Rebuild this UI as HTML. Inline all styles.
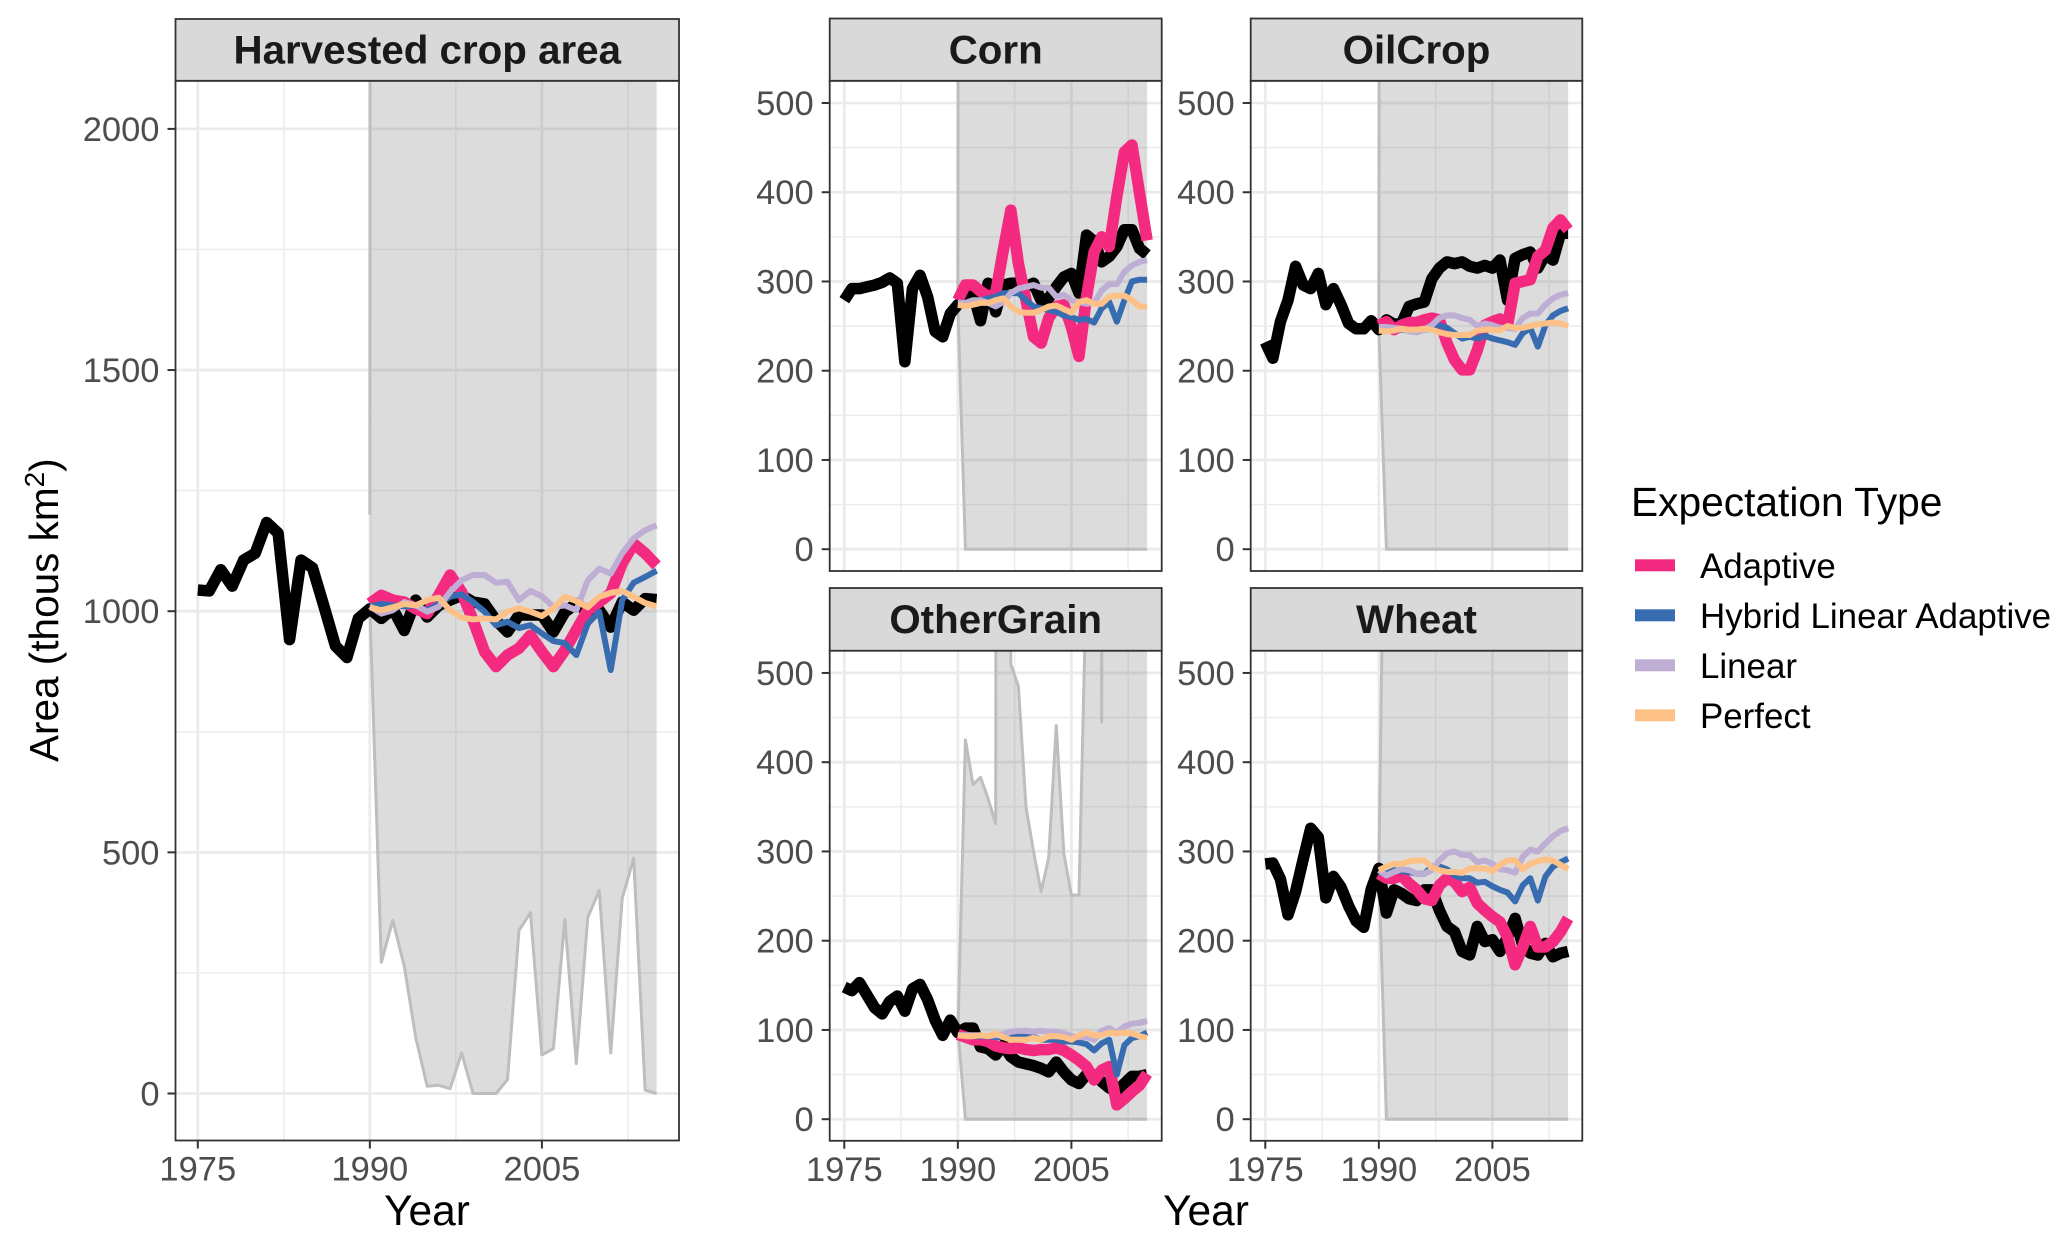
<!DOCTYPE html>
<html lang="en">
<head>
<meta charset="utf-8">
<title>Harvested crop area by expectation type</title>
<style>
html,body{margin:0;padding:0;background:#fff;}
svg{display:block;font-family:"Liberation Sans",Arial,sans-serif;}
</style>
</head>
<body>
<svg id="chart" xmlns="http://www.w3.org/2000/svg" width="2067" height="1244" viewBox="0 0 2067 1244"></svg>
<script>
// ---------- shared axes ----------
const histYears = [1975,1976,1977,1978,1979,1980,1981,1982,1983,1984,1985,1986,1987,1988,1989,1990,1991,1992,1993,1994,1995,1996,1997,1998,1999,2000,2001,2002,2003,2004,2005,2006,2007,2008,2009,2010,2011,2012,2013,2014,2015];
const projYears = [1990,1991,1992,1993,1994,1995,1996,1997,1998,1999,2000,2001,2002,2003,2004,2005,2006,2007,2008,2009,2010,2011,2012,2013,2014,2015];
const xMajorTicks = [1975,1990,2005];
const xMinorTicks = [1982.5,1997.5,2012.5];
const yTicksArea = [0,500,1000,1500,2000];
const yMinorArea = [250,750,1250,1750];
const yTicksCrop = [0,100,200,300,400,500];
const yMinorCrop = [50,150,250,350,450];
const seriesNames = ["Adaptive","Hybrid Linear Adaptive","Linear","Perfect"];

// ---------- Harvested crop area ----------
const areaObserved = [1044,1042,1086,1052,1106,1120,1184,1162,941,1106,1090,1010,928,904,985,1005,985,1005,960,1023,988,1012,1023,1033,1019,1015,981,957,992,992,992,957,998,1016,999,1002,967,1019,1002,1026,1024];
const areaAdaptive = [1016,1033,1023,1019,1005,995,1033,1075,1040,981,916,885,909,923,950,916,885,919,961,1002,1019,1037,1099,1140,1120,1095];
const areaHybrid = [1010,1015,1012,1010,1012,1002,1015,1030,1035,1019,999,971,978,965,971,954,938,934,909,974,999,878,1023,1059,1071,1084];
const areaLinear = [1010,995,1002,1019,1012,999,1009,1040,1064,1075,1075,1059,1061,1023,1042,1031,1009,1012,1002,1064,1088,1078,1120,1151,1168,1178];
const areaPerfect = [1008,1002,1008,1015,1012,1023,1028,1002,987,983,985,983,999,1006,999,990,1006,1030,1021,1008,1030,1038,1042,1030,1017,1010];
const areaLow = [1005,272,359,264,116,15,17,10,84,0,0,0,29,338,375,80,93,361,62,365,421,84,404,488,7,0];
const areaHigh = [1200,60000,60000,60000,60000,60000,60000,60000,60000,60000,60000,60000,60000,60000,60000,60000,60000,60000,60000,60000,60000,60000,60000,60000,60000,60000];

// ---------- Corn ----------
const cornObserved = [279,292,292,294,296,299,304,298,210,292,307,283,244,238,264,274,279,287,256,298,266,296,298,298,294,298,279,281,294,305,309,287,352,345,322,328,339,358,358,337,330];
const cornAdaptive = [279,296,296,289,283,287,335,380,320,279,238,231,259,272,274,249,216,283,333,350,339,395,445,453,399,346];
const cornHybrid = [276,276,277,279,281,283,287,287,287,279,272,270,268,266,262,260,257,258,254,270,277,255,279,300,302,302];
const cornLinear = [276,276,279,279,276,272,277,287,292,294,296,293,293,283,285,279,277,275,276,290,297,297,311,318,322,324];
const cornPerfect = [274,272,274,276,276,279,281,272,266,265,265,268,272,273,269,265,277,279,275,275,283,284,284,279,272,272];
const cornLow = [272,0,0,0,0,0,0,0,0,0,0,0,0,0,0,0,0,0,0,0,0,0,0,0,0,0];
const cornHigh = [272,9000,9000,9000,9000,9000,9000,9000,9000,9000,9000,9000,9000,9000,9000,9000,9000,9000,9000,9000,9000,9000,9000,9000,9000,9000];

// ---------- OilCrop ----------
const oilObserved = [232,214,255,279,317,296,292,309,274,292,274,253,247,247,256,246,257,252,253,272,275,277,303,315,322,320,322,317,315,318,315,324,279,326,330,333,315,330,324,354,354];
const oilAdaptive = [251,255,246,251,254,254,257,259,257,231,212,201,201,223,251,255,258,251,298,300,302,328,335,360,369,358];
const oilHybrid = [248,248,246,246,245,244,246,247,251,248,242,236,238,236,239,236,234,232,229,242,248,227,251,262,267,270];
const oilLinear = [249,249,248,247,244,243,246,251,259,262,262,259,257,250,253,251,248,248,247,259,264,264,274,281,285,287];
const oilPerfect = [245,244,245,247,246,246,247,246,243,241,240,240,240,245,246,246,245,250,248,248,250,252,253,254,253,250];
const oilLow = [246,0,0,0,0,0,0,0,0,0,0,0,0,0,0,0,0,0,0,0,0,0,0,0,0,0];
const oilHigh = [250,9000,9000,9000,9000,9000,9000,9000,9000,9000,9000,9000,9000,9000,9000,9000,9000,9000,9000,9000,9000,9000,9000,9000,9000,9000];

// ---------- OtherGrain ----------
const grainObserved = [148,144,153,139,125,118,132,138,121,146,151,134,111,94,111,97,102,102,81,79,72,83,70,64,62,60,57,53,64,53,44,40,50,50,42,35,31,40,48,48,50];
const grainAdaptive = [95,92,89,89,87,82,80,79,80,78,77,78,78,80,77,72,66,59,44,55,59,16,23,31,38,51];
const grainHybrid = [94,94,93,93,93,92,92,93,94,92,92,89,89,89,87,87,86,84,77,85,89,50,83,91,93,97];
const grainLinear = [94,94,94,94,93,94,95,98,99,99,98,99,98,98,96,93,92,92,89,99,102,97,104,107,108,110];
const grainPerfect = [94,93,93,94,93,96,92,89,89,89,91,89,93,93,92,89,94,97,94,94,97,96,97,96,93,91];
const grainLow = [100,0,0,0,0,0,0,0,0,0,0,0,0,0,0,0,0,0,0,0,0,0,0,0,0,0];
const grainHigh = [95,425,375,383,359,331,9000,510,485,350,300,255,293,441,298,251,251,614,5000,445,5000,5000,5000,5000,5000,5000];

// ---------- Wheat ----------
const wheatObserved = [286,287,269,229,255,291,326,316,248,272,260,239,222,215,258,281,231,257,253,247,245,257,257,234,216,210,188,184,216,199,201,188,204,225,195,186,184,197,182,186,188];
const wheatAdaptive = [275,270,270,273,264,257,247,245,262,270,266,255,260,242,234,227,221,204,173,193,216,193,193,199,210,225];
const wheatHybrid = [277,275,279,278,277,275,275,283,283,280,273,270,270,265,266,261,257,254,244,262,270,245,272,283,288,292];
const wheatLinear = [279,273,277,280,279,275,275,279,290,298,300,296,296,288,290,286,280,279,276,294,302,300,309,317,323,326];
const wheatPerfect = [279,283,286,286,289,290,290,282,279,277,277,276,281,281,281,278,285,290,290,280,286,289,291,290,285,280];
const wheatLow = [280,0,0,0,0,0,0,0,0,0,0,0,0,0,0,0,0,0,0,0,0,0,0,0,0,0];
const wheatHigh = [280,900,5000,5000,5000,5000,5000,5000,5000,5000,5000,5000,5000,5000,5000,5000,5000,5000,5000,5000,5000,5000,5000,5000,5000,5000];

// ---------- drawing ----------
const NS = "http://www.w3.org/2000/svg";
const svg = document.getElementById("chart");
const defs = document.createElementNS(NS, "defs");
svg.appendChild(defs);

function make(tag, attrs, parent) {
  const node = document.createElementNS(NS, tag);
  for (const key in attrs) node.setAttribute(key, attrs[key]);
  parent.appendChild(node);
  return node;
}
function linePath(xs, ys, xScale, yScale) {
  return xs.map(function (x, i) {
    return (i ? "L" : "M") + xScale(x).toFixed(2) + " " + yScale(ys[i]).toFixed(2);
  }).join("");
}
function drawLine(group, xs, ys, xScale, yScale, color, width, name) {
  const p = make("path", {d: linePath(xs, ys, xScale, yScale), fill: "none", stroke: color, "stroke-width": width, "stroke-linejoin": "round", "stroke-linecap": "butt"}, group);
  
  
  return p;
}

function drawPanel(cfg) {
  const g = make("g", {}, svg);
  
  

  const xScale = function (yr) { return cfg.x1975 + (yr - 1975) * cfg.xPerYear; };
  const yScale = function (v) { return cfg.y0 - v * cfg.yPerUnit; };
  const w = cfg.right - cfg.left, h = cfg.bottom - cfg.stripBottom;

  const clip = make("clipPath", {id: "clip-" + cfg.id}, defs);
  make("rect", {x: cfg.left, y: cfg.stripBottom, width: w, height: h}, clip);

  // gridlines
  const grid = make("g", {}, g);
  
  
  cfg.yMinor.forEach(function (v) { make("line", {x1: cfg.left, x2: cfg.right, y1: yScale(v), y2: yScale(v), stroke: "#ebebeb", "stroke-width": 1.4}, grid); });
  xMinorTicks.forEach(function (v) { make("line", {x1: xScale(v), x2: xScale(v), y1: cfg.stripBottom, y2: cfg.bottom, stroke: "#ebebeb", "stroke-width": 1.4}, grid); });
  cfg.yTicks.forEach(function (v) { make("line", {x1: cfg.left, x2: cfg.right, y1: yScale(v), y2: yScale(v), stroke: "#ebebeb", "stroke-width": 2.8}, grid); });
  xMajorTicks.forEach(function (v) { make("line", {x1: xScale(v), x2: xScale(v), y1: cfg.stripBottom, y2: cfg.bottom, stroke: "#ebebeb", "stroke-width": 2.8}, grid); });

  // clipped marks
  const marks = make("g", {"clip-path": "url(#clip-" + cfg.id + ")"}, g);
  
  

  const ribbonTop = projYears.map(function (yr, i) { return xScale(yr).toFixed(2) + "," + yScale(cfg.high[i]).toFixed(2); });
  const ribbonBottom = projYears.map(function (yr, i) { return xScale(yr).toFixed(2) + "," + yScale(cfg.low[i]).toFixed(2); }).reverse();
  const ribbon = make("polygon", {points: ribbonTop.concat(ribbonBottom).join(" "), fill: "#7f7f7f", "fill-opacity": 0.27}, marks);
  
  

  drawLine(marks, projYears, cfg.low, xScale, yScale, "#bebebe", 3, cfg.id + "-range-lower");
  drawLine(marks, projYears, cfg.high, xScale, yScale, "#bebebe", 3, cfg.id + "-range-upper");

  drawLine(marks, histYears, cfg.observed, xScale, yScale, "#000000", 11.5, cfg.id + "-line-observed");
  drawLine(marks, projYears, cfg.adaptive, xScale, yScale, "#F42A81", 11.5, cfg.id + "-line-adaptive");
  drawLine(marks, projYears, cfg.hybrid, xScale, yScale, "#386CB0", 6, cfg.id + "-line-hybrid");
  drawLine(marks, projYears, cfg.linear, xScale, yScale, "#BEAED4", 6, cfg.id + "-line-linear");
  drawLine(marks, projYears, cfg.perfect, xScale, yScale, "#FDC086", 6, cfg.id + "-line-perfect");

  // panel border
  const border = make("rect", {x: cfg.left, y: cfg.stripBottom, width: w, height: h, fill: "none", stroke: "#333333", "stroke-width": 1.8}, g);
  
  

  // strip
  const strip = make("rect", {x: cfg.left, y: cfg.stripTop, width: w, height: cfg.stripBottom - cfg.stripTop, fill: "#d9d9d9", stroke: "#333333", "stroke-width": 1.8}, g);
  
  
  const stripText = make("text", {x: (cfg.left + cfg.right) / 2, y: cfg.stripBottom - 17.5, "text-anchor": "middle", "font-size": 40.3, "font-weight": "bold", fill: "#1a1a1a"}, g);
  stripText.textContent = cfg.title;
  
  

  // y axis
  cfg.yTicks.forEach(function (v) {
    make("line", {x1: cfg.left - 8, x2: cfg.left, y1: yScale(v), y2: yScale(v), stroke: "#333333", "stroke-width": 2}, g);
    const label = make("text", {x: cfg.left - 16, y: yScale(v) + 12, "text-anchor": "end", "font-size": 34.5, fill: "#4d4d4d"}, g);
    label.textContent = String(v);
    
    
  });

  // x axis
  if (cfg.showXLabels) {
    xMajorTicks.forEach(function (v) {
      make("line", {x1: xScale(v), x2: xScale(v), y1: cfg.bottom, y2: cfg.bottom + 8, stroke: "#333333", "stroke-width": 2}, g);
      const label = make("text", {x: xScale(v), y: cfg.bottom + 40, "text-anchor": "middle", "font-size": 34.5, fill: "#4d4d4d"}, g);
      label.textContent = String(v);
      
      
    });
  }
}

drawPanel({id: "harvested", title: "Harvested crop area", left: 175.5, right: 679, stripTop: 19, stripBottom: 80.8, bottom: 1140.5, x1975: 197.8, xPerYear: 11.47, y0: 1093.5, yPerUnit: 0.4823, yTicks: yTicksArea, yMinor: yMinorArea, showXLabels: true, observed: areaObserved, adaptive: areaAdaptive, hybrid: areaHybrid, linear: areaLinear, perfect: areaPerfect, low: areaLow, high: areaHigh});
drawPanel({id: "corn", title: "Corn", left: 829.7, right: 1161.7, stripTop: 18.5, stripBottom: 80.8, bottom: 571, x1975: 844.3, xPerYear: 7.57, y0: 549.2, yPerUnit: 0.8924, yTicks: yTicksCrop, yMinor: yMinorCrop, showXLabels: false, observed: cornObserved, adaptive: cornAdaptive, hybrid: cornHybrid, linear: cornLinear, perfect: cornPerfect, low: cornLow, high: cornHigh});
drawPanel({id: "oilcrop", title: "OilCrop", left: 1250.7, right: 1582.3, stripTop: 18.5, stripBottom: 80.8, bottom: 571, x1975: 1265.3, xPerYear: 7.57, y0: 549.2, yPerUnit: 0.8924, yTicks: yTicksCrop, yMinor: yMinorCrop, showXLabels: false, observed: oilObserved, adaptive: oilAdaptive, hybrid: oilHybrid, linear: oilLinear, perfect: oilPerfect, low: oilLow, high: oilHigh});
drawPanel({id: "othergrain", title: "OtherGrain", left: 829.7, right: 1161.7, stripTop: 588, stripBottom: 650.7, bottom: 1140.8, x1975: 844.3, xPerYear: 7.57, y0: 1119.2, yPerUnit: 0.8925, yTicks: yTicksCrop, yMinor: yMinorCrop, showXLabels: true, observed: grainObserved, adaptive: grainAdaptive, hybrid: grainHybrid, linear: grainLinear, perfect: grainPerfect, low: grainLow, high: grainHigh});
drawPanel({id: "wheat", title: "Wheat", left: 1250.7, right: 1582.3, stripTop: 588, stripBottom: 650.7, bottom: 1140.8, x1975: 1265.3, xPerYear: 7.57, y0: 1119.2, yPerUnit: 0.8925, yTicks: yTicksCrop, yMinor: yMinorCrop, showXLabels: true, observed: wheatObserved, adaptive: wheatAdaptive, hybrid: wheatHybrid, linear: wheatLinear, perfect: wheatPerfect, low: wheatLow, high: wheatHigh});

// ---------- axis titles ----------
const yTitle = make("text", {transform: "translate(58,762) rotate(-90)", "font-size": 40.5, fill: "#000"}, svg);


const yTitleMain = make("tspan", {}, yTitle);
yTitleMain.textContent = "Area (thous km";
const yTitleSup = make("tspan", {dy: -14, "font-size": 28}, yTitle);
yTitleSup.textContent = "2";
const yTitleEnd = make("tspan", {dy: 14}, yTitle);
yTitleEnd.textContent = ")";

const xTitleLeft = make("text", {x: 427, y: 1225, "text-anchor": "middle", "font-size": 42.5, fill: "#000"}, svg);
xTitleLeft.textContent = "Year";



const xTitleRight = make("text", {x: 1206, y: 1225, "text-anchor": "middle", "font-size": 42.5, fill: "#000"}, svg);
xTitleRight.textContent = "Year";



// ---------- legend ----------
const legend = make("g", {}, svg);


const legendTitle = make("text", {x: 1631, y: 516, "font-size": 40.7, fill: "#000"}, legend);
legendTitle.textContent = "Expectation Type";



const legendColors = ["#F42A81","#386CB0","#BEAED4","#FDC086"];
seriesNames.forEach(function (name, i) {
  const entry = make("g", {}, legend);
  
  
  const key = make("rect", {x: 1635, y: 559.3 + i * 50, width: 40, height: 12, fill: legendColors[i]}, entry);
  
  
  const label = make("text", {x: 1700, y: 578 + i * 50, "font-size": 34.9, fill: "#000"}, entry);
  label.textContent = name;
  
  
});
</script>
</body>
</html>
